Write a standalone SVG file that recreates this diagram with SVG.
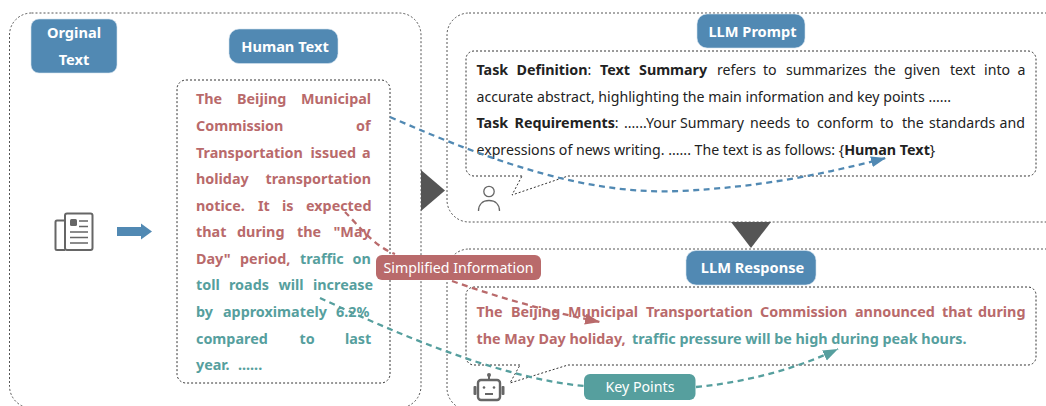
<svg xmlns="http://www.w3.org/2000/svg" width="1046" height="406" viewBox="0 0 1046 406">
<style>
text{font-family:"Noto Sans","Open Sans","Liberation Sans",sans-serif}
.frame{fill:none;stroke:#555;stroke-width:1;stroke-dasharray:2 2}
.inner{fill:none;stroke:#333;stroke-width:1;stroke-dasharray:2 2}
.badge{stroke:#d5e3ee;stroke-width:.6}
.bl{fill:#5189b3}
.tw{fill:#fff;font-size:14.6px;font-weight:700;text-anchor:middle}
.tl{fill:#fff;font-size:14.2px;text-anchor:middle}
.r{fill:#b96a6b;font-size:14.35px;font-weight:700}
.g{fill:#569f9e;font-size:14.35px;font-weight:700}
.k{fill:#222;font-size:14.15px}
.b{font-weight:700;font-size:14.3px}
.ico{fill:none;stroke:#666;stroke-width:2}
.c{fill:none;stroke-width:2.300;stroke-dasharray:6 4.5}
</style>
<defs>
<marker id="ab" markerUnits="userSpaceOnUse" markerWidth="16" markerHeight="12" refX="15" refY="5.500" orient="auto"><path d="M0 0L15 5.500L0 11Z" fill="#5189b3"/></marker>
<marker id="ar" markerUnits="userSpaceOnUse" markerWidth="16" markerHeight="12" refX="15" refY="5.500" orient="auto"><path d="M0 0L15 5.500L0 11Z" fill="#b96a6b"/></marker>
<marker id="ag" markerUnits="userSpaceOnUse" markerWidth="16" markerHeight="12" refX="15" refY="5.500" orient="auto"><path d="M0 0L15 5.500L0 11Z" fill="#569f9e"/></marker>
</defs>
<rect width="1046" height="406" fill="#fff"/>
<g id="original-panel">
<rect class="frame" x="9.500" y="13" width="411.500" height="395" rx="22"/>
<rect class="badge bl" x="31" y="19" width="86" height="54" rx="8"/>
<text class="tw" x="74" y="38">Orginal</text>
<text class="tw" x="74" y="65">Text</text>
<g id="news-icon" class="ico">
<rect x="65" y="213.500" width="27.500" height="36.500" rx="2"/>
<path d="M65 220.500H57a1.500 1.500 0 0 0-1.500 1.500V248.500a1.500 1.500 0 0 0 1.500 1.500H65"/>
<path d="M79 221h9M79 226.500h9M70 232h18M70 237.500h18M70 243h18" stroke-width="1.600"/>
<rect x="70" y="219" width="7" height="7" rx="1.500" fill="#666" stroke="none"/>
</g>
<path id="flow-arrow" d="M117 227H141V223.500L152 231.500L141 239.500V236H117Z" fill="#5189b3"/>
</g>
<g id="human-text">
<rect class="badge bl" x="229" y="29" width="109" height="34.500" rx="10"/>
<text class="tw" x="285" y="52">Human Text</text>
<rect class="inner" x="177" y="80" width="213" height="303" rx="9"/>
<text class="r" y="104"><tspan x="196">The</tspan><tspan x="237">Beijing</tspan><tspan x="301">Municipal</tspan></text>
<text class="r" y="131"><tspan x="196">Commission</tspan><tspan x="356">of</tspan></text>
<text class="r" y="157.500"><tspan x="196">Transportation</tspan><tspan x="310.500">issued</tspan><tspan x="362">a</tspan></text>
<text class="r" y="184"><tspan x="196">holiday</tspan><tspan x="265.500">transportation</tspan></text>
<text class="r" y="210.500"><tspan x="196">notice.</tspan><tspan x="258">It</tspan><tspan x="282">is</tspan><tspan x="306">expected</tspan></text>
<text class="r" y="237"><tspan x="196">that</tspan><tspan x="237">during</tspan><tspan x="297">the</tspan><tspan x="333.500">"May</tspan></text>
<text y="263.500" font-size="14.350" font-weight="700"><tspan class="r" x="196">Day"</tspan><tspan class="r" x="240">period,</tspan><tspan class="g" x="300">traffic</tspan><tspan class="g" x="352.500">on</tspan></text>
<text class="g" y="290"><tspan x="196">toll</tspan><tspan x="229">roads</tspan><tspan x="278.500">will</tspan><tspan x="313">increase</tspan></text>
<text class="g" y="317"><tspan x="196">by</tspan><tspan x="223">approximately</tspan><tspan x="336">6.2%</tspan></text>
<text class="g" y="343.500"><tspan x="196">compared</tspan><tspan x="299.500">to</tspan><tspan x="345">last</tspan></text>
<text class="g" y="370"><tspan x="196">year.</tspan><tspan x="238">......</tspan></text>
</g>
<g id="prompt-panel">
<rect class="frame" x="447" y="13" width="640" height="209" rx="22"/>
<rect class="badge bl" x="697" y="14" width="108" height="34" rx="10"/>
<text class="tw" x="752.500" y="37">LLM Prompt</text>
<path class="inner" d="M522 176H474a8 8 0 0 1-8-8V59a8 8 0 0 1 8-8H1028a8 8 0 0 1 8 8V168a8 8 0 0 1-8 8H568L512 195Z"/>
<text class="k" y="75"><tspan class="b" x="476.500">Task</tspan><tspan class="b" x="516.500">Definition</tspan><tspan>:</tspan><tspan class="b" x="600">Text</tspan><tspan class="b" x="639">Summary</tspan><tspan x="717">refers</tspan><tspan x="763">to</tspan><tspan x="786">summarizes</tspan><tspan x="874">the</tspan><tspan x="904">given</tspan><tspan x="950">text</tspan><tspan x="984">into</tspan><tspan x="1017.500">a</tspan></text>
<text class="k" x="476.500" y="102">accurate abstract, highlighting the main information and key points ......</text>
<text class="k" y="128"><tspan class="b" x="476.500">Task</tspan><tspan class="b" x="514.500">Requirements</tspan><tspan>:</tspan><tspan x="624">......Your</tspan><tspan x="680">Summary</tspan><tspan x="750">needs</tspan><tspan x="796">to</tspan><tspan x="817">conform</tspan><tspan x="880">to</tspan><tspan x="902">the</tspan><tspan x="929">standards</tspan><tspan x="999.500">and</tspan></text>
<text class="k" x="476.500" y="155">expressions of news writing. ...... The text is as follows: {<tspan class="b">Human Text</tspan>}</text>
<g id="person-icon" class="ico"><circle cx="489" cy="191.500" r="5.200" stroke-width="1.300"/><path d="M478.500 211C478.500 204 483 200.500 489 200.500S499.500 204 499.500 211" stroke-width="1.300"/></g>
</g>
<g id="response-panel">
<rect class="frame" x="447" y="249" width="640" height="161" rx="22"/>
<rect class="badge bl" x="686" y="250.500" width="130" height="34.500" rx="10"/>
<text class="tw" x="752.500" y="273">LLM Response</text>
<path class="inner" d="M520 365H474a8 8 0 0 1-8-8V295a8 8 0 0 1 8-8H1028a8 8 0 0 1 8 8V357a8 8 0 0 1-8 8H568L510 383Z"/>
<text class="r" y="317"><tspan x="476.500">The</tspan><tspan x="511">Beijing</tspan><tspan x="568">Municipal</tspan><tspan x="646">Transportation</tspan><tspan x="760">Commission</tspan><tspan x="855">announced</tspan><tspan x="942">that</tspan><tspan x="978">during</tspan></text>
<text class="r" x="476.500" y="344">the May Day holiday,<tspan class="g" x="632">traffic pressure will be high during peak hours.</tspan></text>
<g id="robot-icon">
<circle cx="489" cy="375" r="2" fill="#666"/>
<path d="M489 375V380" stroke="#666" stroke-width="2"/>
<rect x="478" y="380" width="22" height="20" rx="3" fill="none" stroke="#666" stroke-width="2.400"/>
<rect x="473.500" y="386" width="3" height="9" rx="1" fill="#666"/><rect x="501.500" y="386" width="3" height="9" rx="1" fill="#666"/>
<circle cx="484" cy="387.500" r="1.300" fill="#666"/><circle cx="494" cy="387.500" r="1.300" fill="#666"/>
<rect x="485" y="393" width="8" height="2" fill="#666"/>
</g>
</g>
<g id="stage-arrows" fill="#555">
<path d="M421 170L445 190.500L421 211Z"/>
<path d="M731 222H771L751 248Z"/>
</g>
<g id="connectors">
<path class="c" stroke="#5189b3" marker-end="url(#ab)" d="M390 117C500 165 590 195 680 191C760 187 820 175 886 158"/>
<path class="c" stroke="#b96a6b" d="M345 212C358 225 375 247 395 254"/>
<path class="c" stroke="#b96a6b" marker-end="url(#ar)" d="M452 281C500 298 550 312 600 322"/>
<path class="c" stroke="#569f9e" d="M320 298C400 335 500 378 584 386"/>
<path class="c" stroke="#569f9e" marker-end="url(#ag)" d="M696 387C750 382 800 367 838 349"/>
</g>
<g id="simplified-information">
<rect x="376" y="255" width="165" height="25" rx="6" fill="#b96a6b"/>
<text class="tl" x="458.500" y="272.500">Simplified Information</text>
</g>
<g id="key-points">
<rect x="584" y="374" width="111.500" height="26" rx="6" fill="#569f9e"/>
<text class="tl" x="640" y="392">Key Points</text>
</g>
</svg>
